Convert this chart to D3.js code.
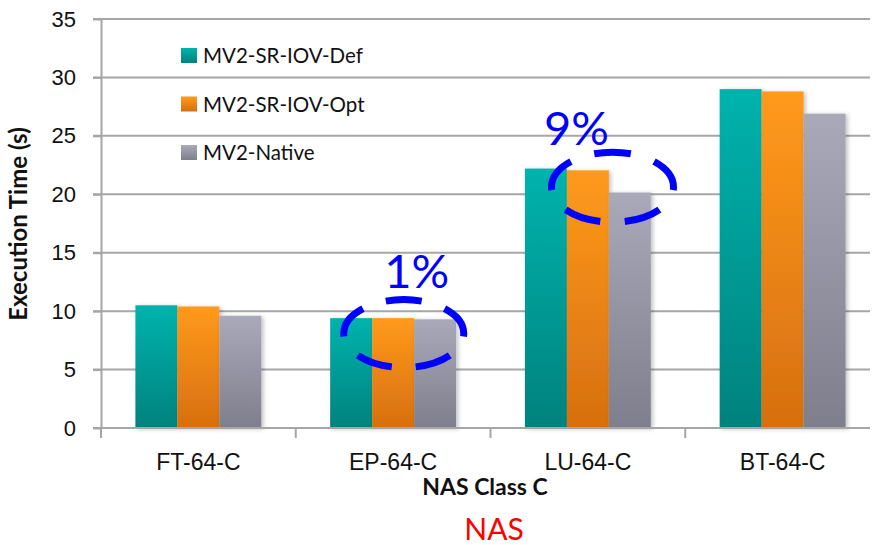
<!DOCTYPE html>
<head>
<meta charset="utf-8">
<style>
body { margin: 0; background: #fff; }
svg { font-family: Lato, "Noto Sans", sans-serif; }
.grid line { stroke: #a6a6a6; stroke-width: 2; }
.axis path, .axis line { stroke: #a6a6a6; stroke-width: 2; }
.axis text { fill: #111; font-size: 22px; }
.xaxis text { font-size: 23px; }
</style>
</head>
<body>
<svg width="875" height="545"></svg>
<script src="https://d3js.org/d3.v7.min.js"></script>
<script>
// data
var categories = ["FT-64-C", "EP-64-C", "LU-64-C", "BT-64-C"];
var seriesNames = ["MV2-SR-IOV-Def", "MV2-SR-IOV-Opt", "MV2-Native"];
var srIovDef = [10.5, 9.4, 22.2, 29.0];
var srIovOpt = [10.4, 9.4, 22.05, 28.8];
var native = [9.6, 9.3, 20.15, 26.9];
var yTicks = [0, 5, 10, 15, 20, 25, 30, 35];
var notes = [{cat: "EP-64-C", text: "1%"}, {cat: "LU-64-C", text: "9%"}];

var series = [srIovDef, srIovOpt, native];
var colors = [["#00b3ad", "#00827e"], ["#ff9a1c", "#d66f0f"], ["#a9a9ba", "#7e7e8c"]];

var svg = d3.select("svg");
var mLeft = 101, mRight = 880, mTop = 19, mBottom = 428;

var x = d3.scaleBand().domain(categories).range([mLeft, mRight]);
var xs = d3.scaleBand().domain(d3.range(3)).range([0, x.bandwidth()]).paddingOuter(0.82).paddingInner(0);
var y = d3.scaleLinear().domain([0, 35]).range([mBottom, mTop]);

// gradients
var defs = svg.append("defs");
colors.forEach(function(c, i) {
  var g = defs.append("linearGradient").attr("id", "g" + i)
    .attr("x1", 0).attr("y1", 0).attr("x2", 0).attr("y2", 1);
  g.append("stop").attr("offset", "0%").attr("stop-color", c[0]);
  g.append("stop").attr("offset", "100%").attr("stop-color", c[1]);
});
var f = defs.append("filter").attr("id", "sh").attr("x", "-10%").attr("y", "-10%").attr("width", "130%").attr("height", "130%");
f.append("feDropShadow").attr("dx", 2).attr("dy", 1).attr("stdDeviation", 2).attr("flood-color", "#000").attr("flood-opacity", 0.25);

// gridlines
svg.append("g").attr("class", "grid")
  .selectAll("line").data(yTicks.slice(1)).enter().append("line")
  .attr("x1", mLeft - 8).attr("x2", 870)
  .attr("y1", function(d) { return y(d); }).attr("y2", function(d) { return y(d); });

// y axis
svg.append("g").attr("class", "axis")
  .attr("transform", "translate(" + mLeft + ",0)")
  .call(d3.axisLeft(y).tickValues(yTicks).tickSize(8).tickPadding(17).tickSizeOuter(0));

// bars
var groups = svg.append("g").selectAll("g").data(categories).enter().append("g")
  .attr("transform", function(d) { return "translate(" + x(d) + ",0)"; });
groups.selectAll("rect").data(function(d, ci) { return series.map(function(s, si) { return {si: si, v: s[ci]}; }); })
  .enter().append("rect")
  .attr("x", function(d) { return xs(d.si); })
  .attr("width", xs.bandwidth())
  .attr("y", function(d) { return y(d.v); })
  .attr("height", function(d) { return y(0) - y(d.v); })
  .attr("fill", function(d) { return "url(#g" + d.si + ")"; })
  .attr("filter", "url(#sh)");

// x axis
var xAxis = svg.append("g").attr("class", "axis xaxis")
  .attr("transform", "translate(0," + mBottom + ")")
  .call(d3.axisBottom(x).tickSize(0).tickPadding(26));
xAxis.select(".domain").attr("d", "M" + (mLeft - 8) + ",0H870");
xAxis.selectAll(".sep").data(categories).enter().append("line").attr("class", "sep")
  .attr("x1", function(d) { return x(d); }).attr("x2", function(d) { return x(d); })
  .attr("y1", 0).attr("y2", 10);

// titles
svg.append("text").attr("transform", "translate(27,224) rotate(-90)")
  .attr("text-anchor", "middle").attr("font-weight", "bold").attr("font-size", 24).attr("fill", "#111")
  .text("Execution Time (s)");
svg.append("text").attr("x", 485).attr("y", 495).attr("text-anchor", "middle")
  .attr("font-weight", "bold").attr("font-size", 23).attr("fill", "#111").text("NAS Class C");
svg.append("text").attr("x", 494).attr("y", 540).attr("text-anchor", "middle")
  .attr("font-size", 30).attr("fill", "#ff0000").text("NAS");

// legend
var lg = svg.append("g").attr("transform", "translate(181,48)");
var li = lg.selectAll("g").data(seriesNames).enter().append("g")
  .attr("transform", function(d, i) { return "translate(0," + i * 48.5 + ")"; });
li.append("rect").attr("width", 16).attr("height", 15).attr("fill", function(d, i) { return "url(#g" + i + ")"; });
li.append("text").attr("x", 22).attr("y", 15).attr("font-size", 20.5).attr("fill", "#111").text(function(d) { return d; });

// annotations: dashed ellipses with percentages (offsets from group / mean value)
var notePlace = {
  "EP-64-C": {ex: 108, ey: 15, rx: 60, ry: 34, lx: 13, ly: -46},
  "LU-64-C": {ex: 122, ey: 10, rx: 61, ry: 35, lx: -36, ly: -42}
};
notes.forEach(function(n) {
  var ci = categories.indexOf(n.cat), p = notePlace[n.cat];
  var cx = x(n.cat) + p.ex;
  var cy = y(d3.mean(series, function(s) { return s[ci]; })) + p.ey;
  var el = svg.append("ellipse").attr("cx", cx).attr("cy", cy).attr("rx", p.rx).attr("ry", p.ry)
    .attr("fill", "none").attr("stroke", "#0000ff").attr("stroke-width", 7);
  var P = el.node().getTotalLength ? el.node().getTotalLength() : 2 * Math.PI * Math.sqrt((p.rx * p.rx + p.ry * p.ry) / 2);
  var period = P / 5, dash = period * 0.6;
  // one dash centred on the top of the ellipse (3/4 along the path)
  el.attr("stroke-dasharray", dash + " " + (period - dash))
    .attr("stroke-dashoffset", 0.25 * period + dash / 2);
  svg.append("text").attr("x", cx + p.lx).attr("y", cy + p.ly).attr("text-anchor", "middle")
    .attr("font-size", 47).attr("fill", "#0000ff").text(n.text);
});
</script>
</body>
